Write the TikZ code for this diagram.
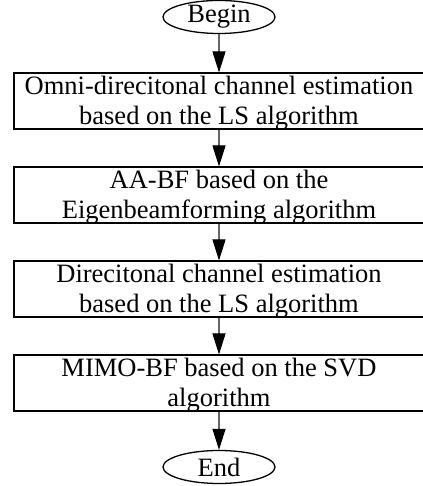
\documentclass[tikz,border=0pt]{standalone}
\usepackage{fontspec}
\setmainfont{Liberation Serif}
\usetikzlibrary{arrows.meta,shapes.geometric}
\newcommand{\steptext}[1]{\parbox[c][56pt][t]{410pt}{\centering\rule{0pt}{22pt}#1}}

\begin{document}
\begin{tikzpicture}[x=1pt,y=1pt,
    endpoint/.style={draw,line width=1.3pt,ellipse,inner sep=0pt,minimum width=112pt,minimum height=33pt,font=\fontsize{26.5}{31}\selectfont},
    stepbox/.style={draw,line width=1.1pt,rectangle,inner sep=0pt,font=\fontsize{26.5}{30}\selectfont},
    flow/.style={draw=black!60,line width=1.1pt,-{Triangle[length=21pt,width=13pt,fill=black,color=black]}}]
      \useasboundingbox (0,0) rectangle (422,486);
      \node[endpoint] (begin) at (219,469) {Begin};
      \node[stepbox] (omni) at (219,385) {\steptext{Omni-direcitonal channel estimation\\based on the LS algorithm}};
      \node[stepbox] (aabf) at (219,291) {\steptext{AA-BF based on the\\Eigenbeamforming algorithm}};
      \node[stepbox] (dir) at (219,197) {\steptext{Direcitonal channel estimation\\based on the LS algorithm}};
      \node[stepbox] (mimo) at (219,103) {\steptext{MIMO-BF based on the SVD\\algorithm}};
      \node[endpoint] (end) at (219,19) {End};

      \draw[flow] (begin) -- (omni);
      \draw[flow] (omni) -- (aabf);
      \draw[flow] (aabf) -- (dir);
      \draw[flow] (dir) -- (mimo);
      \draw[flow] (mimo) -- (end);
    \end{tikzpicture}
\end{document}
